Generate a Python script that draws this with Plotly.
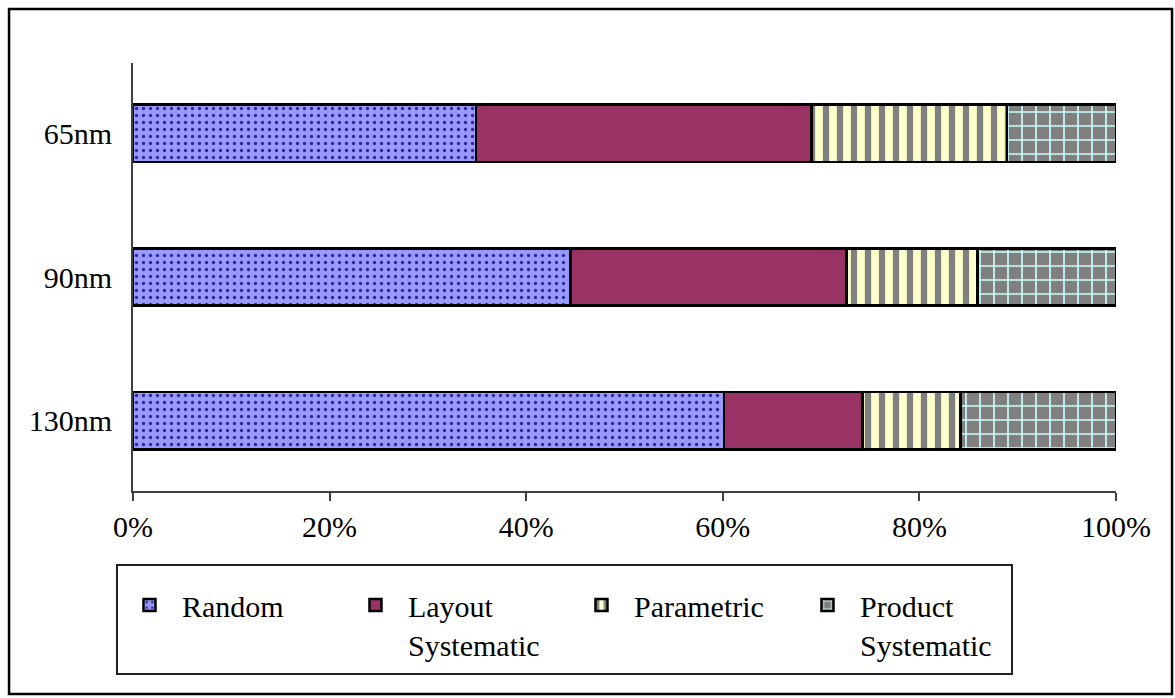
import plotly.graph_objects as go

# Defect-source breakdown per technology node (share of total, %)
nodes = ["130nm", "90nm", "65nm"]
random_share = [60.1, 44.5, 34.9]
layout_share = [14.1, 28.1, 34.1]
parametric_share = [10.0, 13.3, 19.9]
product_share = [15.8, 14.1, 11.1]

series_names = ["Random", "Layout<br>Systematic", "Parametric", "Product<br>Systematic"]
x_ticks = [0, 20, 40, 60, 80, 100]
x_tick_labels = ["0%", "20%", "40%", "60%", "80%", "100%"]

FONT = "Liberation Serif, Times New Roman, serif"
FS = 30

styles = [
    dict(bg="#9999ff", fg="#2a2a9a", shape=".", size=7, solidity=0.18),
    dict(bg="#993366", fg="#993366", shape="", size=8, solidity=0.3),
    dict(bg="#ffffcc", fg="#808080", shape="|", size=14, solidity=0.45),
    dict(bg="#808080", fg="#ccffff", shape="+", size=14, solidity=0.22),
]

fig = go.Figure()
for name, values, st in zip(series_names,
                            [random_share, layout_share, parametric_share, product_share],
                            styles):
    fig.add_trace(go.Bar(
        y=nodes,
        x=values,
        name=name,
        orientation="h",
        width=0.4,
        marker=dict(
            color=st["bg"],
            line=dict(color="black", width=2.5),
            pattern=dict(shape=st["shape"], fgcolor=st["fg"], bgcolor=st["bg"],
                         size=st["size"], solidity=st["solidity"], fillmode="replace"),
        ),
        hoverinfo="x+name",
    ))

fig.update_layout(
    barmode="stack",
    width=1175,
    height=698,
    margin=dict(l=133, r=59, t=63, b=207),
    paper_bgcolor="white",
    plot_bgcolor="white",
    font=dict(family=FONT, size=FS, color="black"),
    xaxis=dict(
        range=[0, 100],
        tickvals=x_ticks,
        ticktext=x_tick_labels,
        ticks="outside",
        ticklen=8,
        tickwidth=2,
        tickcolor="#404040",
        showline=True,
        linecolor="#404040",
        linewidth=2,
        showgrid=False,
        zeroline=False,
        tickfont=dict(family=FONT, size=FS, color="black"),
    ),
    yaxis=dict(
        range=[-0.49, 2.49],
        showline=True,
        linecolor="#404040",
        linewidth=2,
        showgrid=False,
        zeroline=False,
        ticks="",
        ticklabelstandoff=13,
        tickfont=dict(family=FONT, size=FS, color="black"),
    ),
    legend=dict(
        orientation="h",
        x=-0.0163,
        xanchor="left",
        y=-0.2056,
        yanchor="top",
        borderwidth=0,
        bgcolor="rgba(0,0,0,0)",
        entrywidth=156,
        itemwidth=55,
        valign="top",
        traceorder="normal",
        font=dict(family=FONT, size=FS, color="black"),
    ),
    shapes=[
        # outer frame
        dict(type="rect", xref="paper", yref="paper",
             x0=-0.1261, x1=1.0570, y0=-0.4743, y1=1.1262,
             line=dict(color="black", width=2.5), fillcolor="rgba(0,0,0,0)", layer="below"),
        # legend frame
        dict(type="rect", xref="paper", yref="paper",
             x0=-0.0163, x1=0.8942, y0=-0.4276, y1=-0.1729,
             line=dict(color="#222222", width=2), fillcolor="rgba(0,0,0,0)", layer="below"),
    ],
)

fig.write_html("out.html")
